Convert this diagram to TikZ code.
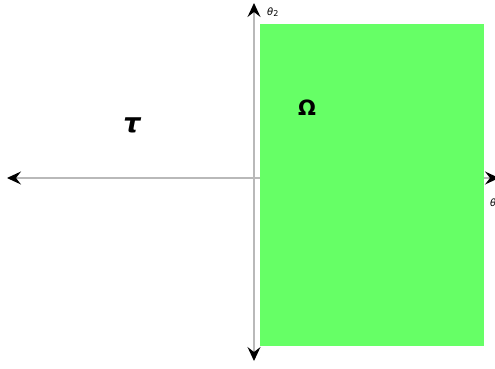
\documentclass[tikz,border=0pt]{standalone}
\usepackage{fontspec}
\newfontfamily\greekfont{DejaVu Sans}
\usetikzlibrary{arrows.meta}
\definecolor{regiongreen}{HTML}{66FF66}
\tikzset{
  axisline/.style={draw=gray!55, line width=1.2pt, arrows={Stealth[black,length=14pt,width=13pt,inset=5pt]-Stealth[black,length=14pt,width=13pt,inset=5pt]}},
  region/.style={fill=regiongreen, draw=none},
  biglabel/.style={font=\greekfont\bfseries\fontsize{21}{24}\selectfont},
  axlabel/.style={font=\greekfont\fontsize{10}{12}\selectfont, inner sep=0pt}
}
\begin{document}
\begin{tikzpicture}[x=1pt,y=-1pt]
\useasboundingbox (0,0) rectangle (495,368);
\coordinate (top) at (254,3);
\coordinate (bottom) at (254,361);
\coordinate (left) at (7,178);
\coordinate (right) at (499,178);
\draw[axisline] (bottom) -- (top);
\draw[axisline] (left) -- (right);
\fill[region] (260,24) rectangle (484,346);
\node[axlabel, anchor=west] (t2) at (267,12) {\itshape θ\upshape\raisebox{-0.3ex}{\fontsize{8}{9}\selectfont 2}};
\node[axlabel, anchor=west] (t1) at (490,203) {\itshape θ\upshape\raisebox{-0.3ex}{\fontsize{8}{9}\selectfont 1}};
\node[biglabel, font=\greekfont\bfseries\itshape\fontsize{27}{30}\selectfont] (tau) at (132,125) {τ};
\node[biglabel] (omega) at (307,108) {Ω};
\end{tikzpicture}
\end{document}
